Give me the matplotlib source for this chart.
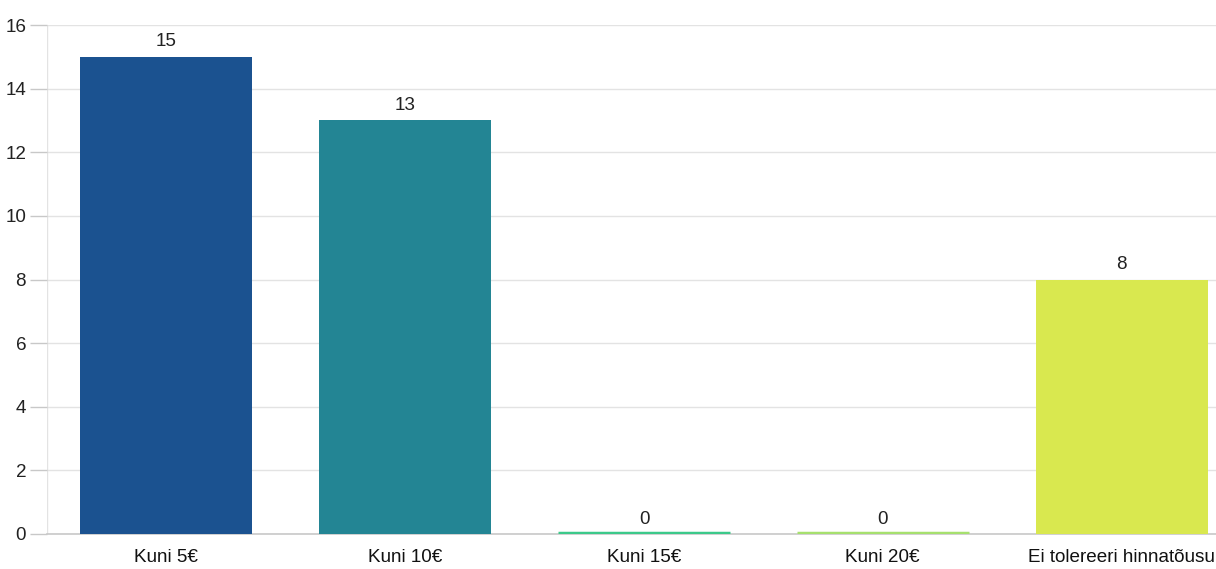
import matplotlib.pyplot as plt

plt.rcParams['font.family'] = ['Liberation Sans', 'DejaVu Sans']

categories = ['Kuni 5€', 'Kuni 10€', 'Kuni 15€', 'Kuni 20€', 'Ei tolereeri hinnatõusu']
values = [15, 13, 0, 0, 8]
colors = ['#1b5290', '#238594', '#3cc98a', '#a6e06e', '#d9e84f']

fig = plt.figure(figsize=(12.16, 5.69), dpi=100)
ax = fig.add_axes([47 / 1216, 35 / 569, 1194 / 1216, 509 / 569])

x = range(len(categories))
bars = ax.bar(x, values, width=0.72, color=colors, zorder=3)
# zero values still get a thin line on the baseline
for i, v in enumerate(values):
    if v == 0:
        ax.plot([i - 0.36, i + 0.36], [0.04, 0.04], color=colors[i], lw=2.5, zorder=4,
                solid_capstyle='butt')
    ax.text(i, v + 0.2, str(v), ha='center', va='bottom', fontsize=13.6, color='#222222')

ax.set_xlim(-0.5, len(categories) - 0.5)
ax.set_ylim(0, 16)
ax.set_yticks(range(0, 17, 2))
ax.set_xticks(list(x))
ax.set_xticklabels(categories)
ax.grid(axis='y', color='#e3e3e3', lw=1, zorder=0)
ax.axvline(-0.5, color='#e3e3e3', lw=1, zorder=0)

for s in ['top', 'right', 'left']:
    ax.spines[s].set_visible(False)
ax.spines['bottom'].set_color('#c8c8c8')
ax.spines['bottom'].set_linewidth(1.2)
ax.tick_params(axis='x', length=0, pad=11, labelsize=13.6, colors='#111111')
ax.tick_params(axis='y', length=12, width=1, color='#c8c8c8', pad=3, labelsize=13.6,
               labelcolor='#222222')

fig.savefig('out.png', dpi=100)
